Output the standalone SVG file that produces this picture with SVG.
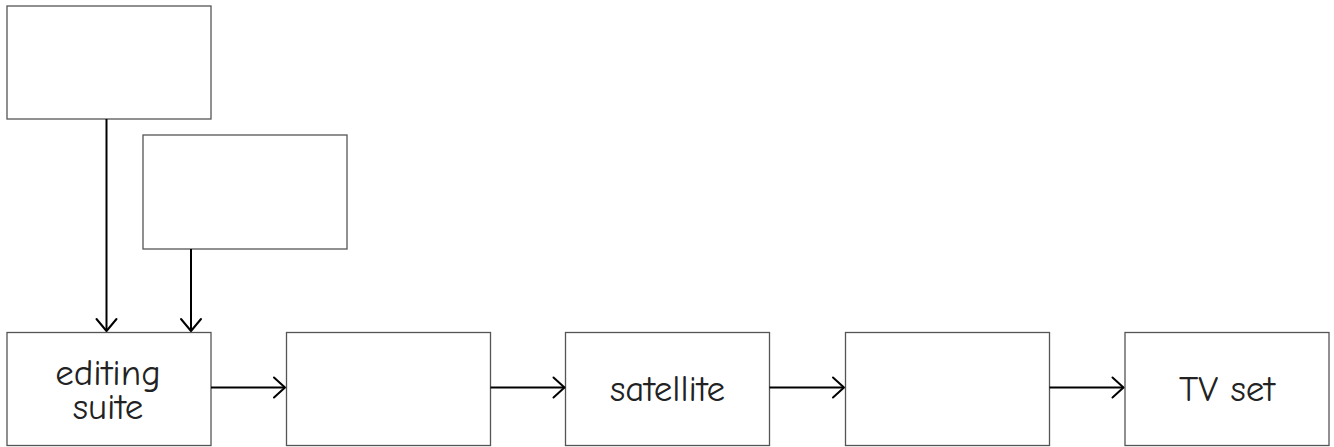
<svg xmlns="http://www.w3.org/2000/svg" width="1334" height="447" viewBox="0 0 1334 447">
<style>
.box{fill:#fff;stroke:#555;stroke-width:1.3}
.lbl{font-family:"Comic Sans MS","Comic Neue","Noto Sans",sans-serif;font-size:37px;fill:#222;text-anchor:middle}
.con{stroke:#000;stroke-width:2;fill:none}
.hd{stroke:#000;stroke-width:2;fill:none;stroke-linecap:round;stroke-linejoin:round}
</style>
<rect width="1334" height="447" fill="#fff"/>
<g id="src1"><rect class="box" x="7" y="6" width="204" height="113"/></g>
<g id="src2"><rect class="box" x="143" y="135" width="204" height="114"/></g>
<g id="editing"><rect class="box" x="7" y="332.5" width="204" height="113"/>
<text class="lbl"><tspan x="108" y="385">editing</tspan><tspan x="108" y="419">suite</tspan></text></g>
<g id="n2"><rect class="box" x="286.5" y="332.5" width="204" height="113"/></g>
<g id="satellite"><rect class="box" x="565.5" y="332.5" width="204" height="113"/>
<text class="lbl" x="667.5" y="401">satellite</text></g>
<g id="n4"><rect class="box" x="845.5" y="332.5" width="204" height="113"/></g>
<g id="tvset"><rect class="box" x="1125" y="332.5" width="204" height="113"/>
<text class="lbl" x="1227" y="401">TV set</text></g>
<g id="connectors">
<path class="con" d="M106.5 119V331"/><path class="hd" d="M96.5 319L106.5 331L116.5 319"/>
<path class="con" d="M191 249V331"/><path class="hd" d="M181 319L191 331L201 319"/>
<path class="con" d="M211 387.5H285"/><path class="hd" d="M274 377.5L285 387.5L274 397.5"/>
<path class="con" d="M490.5 387.5H564.5"/><path class="hd" d="M553.5 377.5L564.5 387.5L553.5 397.5"/>
<path class="con" d="M769.5 387.5H844"/><path class="hd" d="M833 377.5L844 387.5L833 397.5"/>
<path class="con" d="M1049.5 387.5H1123.5"/><path class="hd" d="M1112.5 377.5L1123.5 387.5L1112.5 397.5"/>
</g>
</svg>
